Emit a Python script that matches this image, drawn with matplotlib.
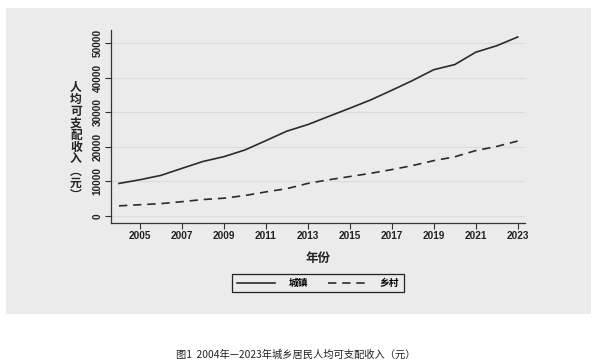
import matplotlib
matplotlib.use("Agg")
import matplotlib.pyplot as plt
from matplotlib.patches import Rectangle

plt.rcParams['font.family'] = ['Liberation Sans', 'Noto Sans CJK SC', 'DejaVu Sans']

years = list(range(2004, 2024))
urban = [9422, 10493, 11759, 13786, 15781, 17175, 19109, 21810, 24565, 26467,
         28844, 31195, 33616, 36396, 39251, 42359, 43834, 47412, 49283, 51821]
rural = [2936, 3255, 3587, 4140, 4761, 5153, 5919, 6977, 7917, 9430,
         10489, 11422, 12363, 13432, 14617, 16021, 17131, 18931, 20133, 21691]
series_labels = ['城镇', '乡村']
xticks = list(range(2005, 2024, 2))
yticks = [0, 10000, 20000, 30000, 40000, 50000]
ylabel_text = '人均可支配收入（元）'
xlabel_text = '年份'
caption = '图1  2004年—2023年城乡居民人均可支配收入（元）'

W, H = 600, 364
fig = plt.figure(figsize=(W / 100, H / 100), dpi=100)
fig.patch.set_facecolor('white')
bg = '#ebebeb'
# gray panel
fig.patches.append(Rectangle((6 / W, 1 - 314 / H), (591 - 6) / W, (314 - 8) / H,
                             transform=fig.transFigure, facecolor=bg,
                             edgecolor='none', zorder=-10))

ax = fig.add_axes([111 / W, 1 - 223 / H, (525 - 111) / W, (223 - 30) / H])
ax.set_facecolor(bg)
ax.patch.set_alpha(0)

line_color = '#2b2b2b'
ax.plot(years, urban, color=line_color, lw=1.2, label=series_labels[0])
ax.plot(years, rural, color=line_color, lw=1.2, ls=(0, (5, 3.5)), label=series_labels[1])

ax.set_xlim(2003.62, 2023.35)
ax.set_ylim(-2030, 53850)
ax.set_xticks(xticks)
ax.set_yticks(yticks)
tick_font = dict(fontsize=7.2, fontweight='bold', color='#222222', family='Liberation Sans')
ax.set_xticklabels([str(x) for x in xticks], **tick_font)
ax.set_yticklabels([str(y) for y in yticks], rotation=90, va='center', **tick_font)
ax.tick_params(axis='both', length=4, width=0.8, color='#333333', pad=2)

for y in yticks:
    ax.axhline(y, color='#dcdcdc', lw=0.9, zorder=0)

for s in ['top', 'right']:
    ax.spines[s].set_visible(False)
for s in ['left', 'bottom']:
    ax.spines[s].set_color('#333333')
    ax.spines[s].set_linewidth(0.9)

# vertical stacked y label
vchars = list(ylabel_text.replace('（', '︵').replace('）', '︶'))
fig.text(76 / W, 1 - 141 / H, '\n'.join(vchars), ha='center', va='center',
         fontsize=8.5, fontweight='bold', linespacing=0.9,
         family=['Noto Sans CJK SC', 'DejaVu Sans'], color='#222222')

fig.text(318 / W, 1 - 258 / H, xlabel_text, ha='center', va='center',
         fontsize=9, fontweight='bold', family=['Noto Sans CJK SC', 'DejaVu Sans'],
         color='#222222')

leg = ax.legend(loc='center', bbox_to_anchor=((318 / W), 1 - 283 / H),
                bbox_transform=fig.transFigure, ncol=2, frameon=True,
                fancybox=False, edgecolor='#222222', facecolor=bg, framealpha=1,
                prop={'family': ['Noto Sans CJK SC', 'DejaVu Sans'], 'size': 7, 'weight': 'bold'},
                handlelength=3.9, columnspacing=2.1, handletextpad=1.4,
                borderpad=0.45)
leg.get_frame().set_linewidth(0.9)

fig.text(296 / W, 1 - 355 / H, caption, ha='center', va='center', fontsize=7.4,
         family=['Noto Sans CJK SC', 'DejaVu Sans'], color='#222222')

fig.savefig('out.png', dpi=100, facecolor='white')
